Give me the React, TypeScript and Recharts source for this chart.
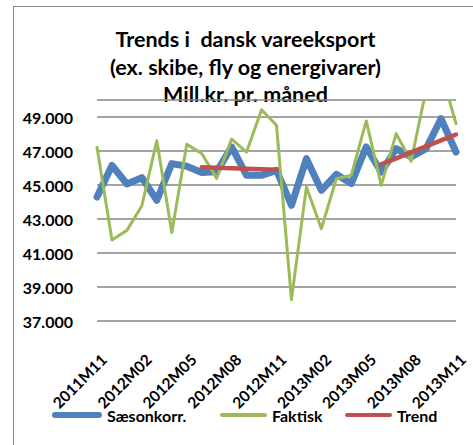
import React from 'react';
import { LineChart, Line, XAxis, YAxis, CartesianGrid } from 'recharts';

const months = [
  '2011M11', '2011M12',
  '2012M01', '2012M02', '2012M03', '2012M04', '2012M05', '2012M06',
  '2012M07', '2012M08', '2012M09', '2012M10', '2012M11', '2012M12',
  '2013M01', '2013M02', '2013M03', '2013M04', '2013M05', '2013M06',
  '2013M07', '2013M08', '2013M09', '2013M10', '2013M11',
];

const saesonkorr = [
  44290, 46150, 45060, 45430, 44100, 46260, 46100, 45740, 45780, 47240,
  45570, 45570, 45860, 43800, 46550, 44690, 45630, 45080, 47240, 45760,
  47140, 46650, 47140, 48900, 46940,
];

const faktisk = [
  47220, 41770, 42330, 43780, 47610, 42210, 47390, 46850, 45390, 47700,
  46940, 49430, 48510, 38260, 44880, 42430, 45370, 45570, 48770, 44980,
  48020, 46400, 50600, 51700, 48610,
];

const trend: (number | null)[] = [
  null, null, null, null, null, null, null,
  46050, 46020, 45990, 45960, 45930, 45890,
  null, null, null, null, null, null,
  46220, 46570, 46920, 47270, 47620, 47970,
];

const yTicks = [37000, 39000, 41000, 43000, 45000, 47000, 49000];

const titleLines = ['Trends i  dansk vareeksport', '(ex. skibe, fly og energivarer)', 'Mill.kr. pr. måned'];

const SERIES = [
  { key: 'saeson', name: 'Sæsonkorr.', color: '#4F81BD', width: 7, legendLeft: 52, legendWidth: 50 },
  { key: 'faktisk', name: 'Faktisk', color: '#9BBB59', width: 3, legendLeft: 220, legendWidth: 47 },
  { key: 'trend', name: 'Trend', color: '#C0504D', width: 4.5, legendLeft: 345, legendWidth: 47 },
];

const data = months.map((m, i) => ({
  month: m,
  saeson: saesonkorr[i],
  faktisk: faktisk[i],
  trend: trend[i],
}));

const FONT = 'Lato, "Open Sans", sans-serif';

const fmt = (v: number) => `${Math.floor(v / 1000)}.${String(v % 1000).padStart(3, '0')}`;

const YTick = ({ x, y, payload }: any) => (
  <text x={x - 16} y={y} textAnchor="end" dominantBaseline="central"
    fontFamily={FONT} fontWeight={700} fontSize={16} fill="#000">
    {fmt(payload.value)}
  </text>
);

// rotated month labels, ending just right of the tick
const XTick = ({ x, y, payload }: any) => (
  <g transform={`translate(${x + 11},${y + 32})`}>
    <text textAnchor="end" transform="rotate(-45)" fontFamily={FONT}
      fontWeight={700} fontSize={15.5} fill="#000">
      {payload.value}
    </text>
  </g>
);

export default function App() {
  return (
    <div style={{ position: 'absolute', left: 0, top: 0, width: 473, height: 445, overflow: 'hidden', background: '#fff' }}>
      <div style={{ position: 'absolute', left: 13, top: 6, width: 470, height: 450, border: '1px solid #888' }} />
      <div style={{
        position: 'absolute', left: 13, top: 26, width: 465, textAlign: 'center',
        fontFamily: FONT, fontWeight: 700, fontSize: 21.5, lineHeight: '27.5px', color: '#000',
      }}>
        {titleLines.map((t) => <div key={t} style={{ whiteSpace: 'pre' }}>{t}</div>)}
      </div>
      <div style={{ position: 'absolute', left: 0, top: 0 }}>
        <LineChart width={473} height={445} data={data}
          margin={{ top: 100, right: 17, bottom: 44, left: 17 }}>
          <CartesianGrid vertical={false} stroke="#868686" strokeWidth={1.5} />
          <XAxis dataKey="month" interval={2} tick={<XTick />} tickLine={false}
            axisLine={false} height={80} />
          <YAxis domain={[37000, 50000]} ticks={yTicks} allowDataOverflow
            tick={<YTick />} tickLine={false} axisLine={false} width={80} />
          {SERIES.map((s) => (
            <Line key={s.key} type="linear" dataKey={s.key} name={s.name} stroke={s.color}
              strokeWidth={s.width} dot={false} activeDot={false} isAnimationActive={false}
              strokeLinejoin="round" strokeLinecap="round" />
          ))}
        </LineChart>
      </div>
      {SERIES.map((s) => (
        <div key={s.key} style={{ position: 'absolute', left: s.legendLeft, top: 404, display: 'flex', alignItems: 'center', height: 22 }}>
          <div style={{ width: s.legendWidth, height: s.key === 'saeson' ? 6 : 4, borderRadius: 3, background: s.color, marginRight: 5 }} />
          <span style={{ fontFamily: FONT, fontWeight: 700, fontSize: 16, color: '#000' }}>{s.name}</span>
        </div>
      ))}
    </div>
  );
}
